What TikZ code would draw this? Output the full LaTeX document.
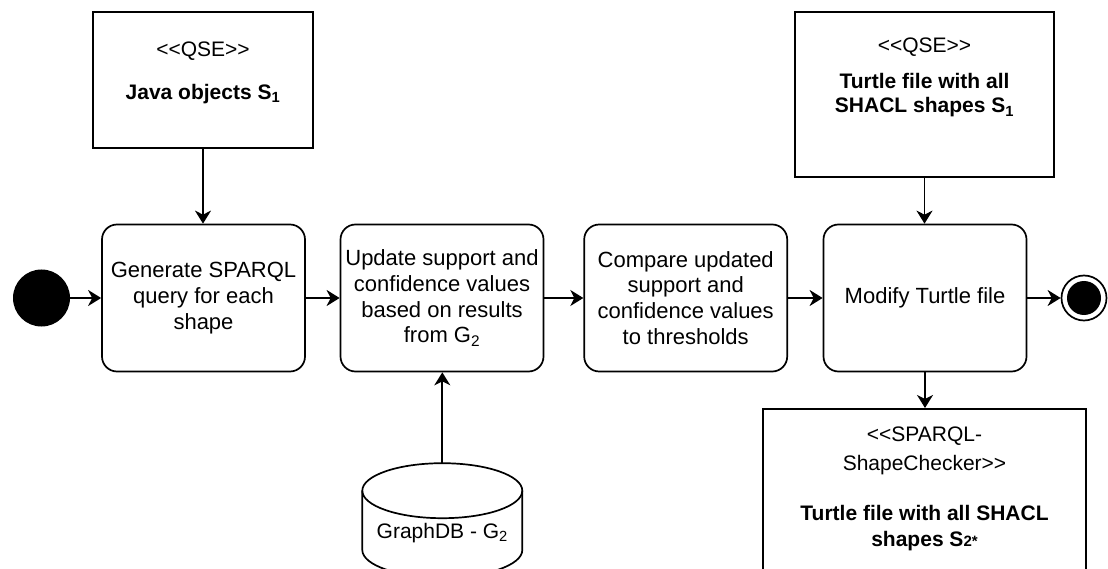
\documentclass[tikz,border=0pt]{standalone}
\usepackage{fontspec}
\setmainfont{Liberation Sans}
\usetikzlibrary{arrows.meta}
\newcommand\dfont{\fontsize{21}{25.5}\selectfont}
\newcommand\actfont{\fontsize{22}{25.8}\selectfont}
\newcommand\smallnum[1]{{\fontsize{15}{15}\selectfont #1}}

\begin{document}
\begin{tikzpicture}[x=1pt,y=-1pt,
  line/.style={draw=black, line width=1.7pt},
  flow/.style={line, -{Stealth[length=13pt,width=16pt,inset=4pt]}},
  act/.style={line, rounded corners=15pt, minimum width=203pt,
    minimum height=147pt, align=center, font=\actfont, inner sep=0pt},
  artifact/.style={line, inner sep=0pt},
  txt/.style={font=\dfont, inner sep=0pt, anchor=base},
  startdot/.style={circle, fill=black, minimum size=57pt, inner sep=0pt},
  endring/.style={circle, line, minimum size=45pt, inner sep=0pt}]

\fill[white] (0,0) rectangle (1108,569);
\clip (0,0) rectangle (1108,569);

% activity row
\node[startdot] (start) at (41.5,298) {};
\node[act] (gen) at (203.5,298) {Generate SPARQL\\query for each\\shape};
\node[act] (upd) at (442,298) {Update support and\\confidence values\\based on results\\from G\textsubscript{2}};
\node[act] (cmp) at (685.7,298) {Compare updated\\support and\\confidence values\\to thresholds};
\node[act] (mod) at (925,298) {Modify Turtle file};
\node[endring] (stop) at (1084,298) {};
\fill (stop.center) circle[radius=17pt];

% object nodes
\node[artifact, minimum width=220pt, minimum height=136pt] (javaobj) at (203,80) {};
\node[txt] (javaobj-text) at (203,57)
  {\begin{tabular}[t]{@{}c@{}}<{}<QSE>{}>\\[17pt]\bfseries Java objects S\textsubscript{1}\end{tabular}};

\node[artifact, minimum width=259pt, minimum height=165pt] (ttl1) at (924.5,94.5) {};
\node[txt] (ttl1-text) at (924.5,53)
  {\begin{tabular}[t]{@{}c@{}}<{}<QSE>{}>\\[10.5pt]\bfseries Turtle file with all\\[-1.5pt]\bfseries SHACL shapes S\textsubscript{1}\end{tabular}};

\node[artifact, minimum width=323pt, minimum height=220pt, anchor=north] (ttl2) at (924.5,408) {};
\node[txt] (ttl2-text) at (924.5,441.7)
  {\begin{tabular}[t]{@{}c@{}}<{}<SPARQL-\\[2.8pt]ShapeChecker>{}>\\[25.2pt]\bfseries Turtle file with all SHACL\\[0.5pt]\bfseries shapes S\smallnum{2}\smallnum{*}\end{tabular}};

% database cylinder
\coordinate (dbtop) at (442.3,463.2);
\draw[line] (442.3,490.7) ellipse[x radius=80pt, y radius=27.5pt];
\draw[line] (362.3,490.7) -- (362.3,550)
  arc[start angle=180, end angle=360, x radius=80pt, y radius=27.5pt] -- (522.3,490.7);
\node[txt] (db) at (442.3,538) {GraphDB - G\textsubscript{2}};

% control flow
\draw[flow] (start.east) -- (gen.west);
\draw[flow] (gen.east) -- (upd.west);
\draw[flow] (upd.east) -- (cmp.west);
\draw[flow] (cmp.east) -- (mod.west);
\draw[flow] (mod.east) -- (stop.west);

% object flow
\draw[flow] (javaobj.south) -- (javaobj.south |- gen.north);
\draw[flow] (ttl1.south) -- (ttl1.south |- mod.north);
\draw[flow] (mod.south) -- (mod.south |- ttl2.north);
\draw[flow] (dbtop) -- (dbtop |- upd.south);
\end{tikzpicture}
\end{document}
